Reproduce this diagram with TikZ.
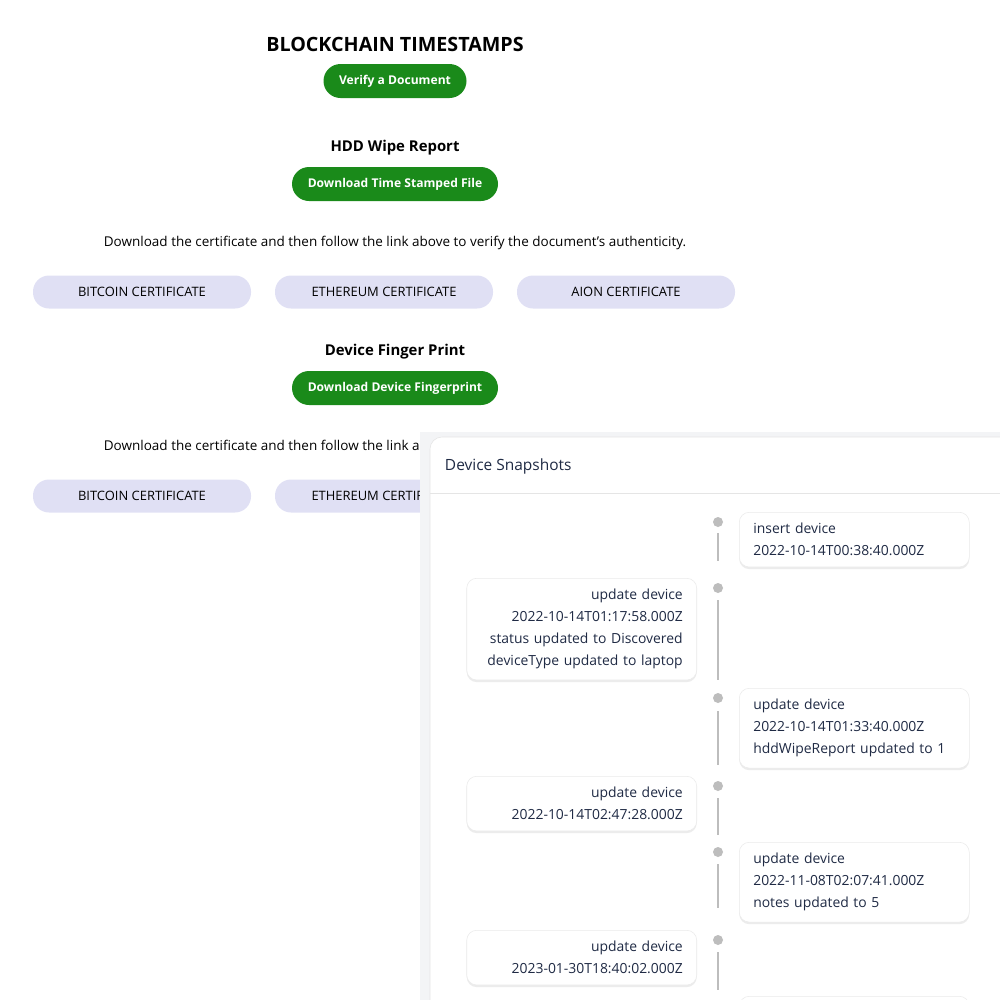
\documentclass[tikz,border=0pt]{standalone}
\usepackage{fontspec}
\setmainfont{Open Sans}
\usetikzlibrary{positioning,shadows}
\definecolor{btngreen}{HTML}{1A8A1A}
\definecolor{lavender}{HTML}{E0E0F4}
\definecolor{panelgrey}{HTML}{F3F4F6}
\definecolor{navy}{HTML}{1F2A44}
\definecolor{dotgrey}{HTML}{BDBDBD}
\tikzset{
        greenbtn/.style = {fill=btngreen, text=white, rounded corners=17*0.025cm,
            minimum height=34*0.025cm, font=\fontsize{8.6}{11}\selectfont\bfseries},
        certbtn/.style = {fill=lavender, rounded corners=16*0.025cm,
            minimum width=218*0.025cm, minimum height=33*0.025cm,
            font=\fontsize{9.2}{10}\selectfont},
        heading/.style = {font=\fontsize{10.6}{12}\selectfont\bfseries},
        bodytext/.style = {font=\fontsize{9.6}{12}\selectfont},
        card/.style = {draw=black!8, fill=white, rounded corners=10*0.025cm,
            drop shadow={opacity=0.15, shadow xshift=0pt, shadow yshift=-1.5pt},
            text width=202*0.025cm, inner xsep=14*0.025cm, inner ysep=11*0.025cm,
            text=navy, font=\fontsize{9.9}{15.6}\selectfont},
        tdot/.style = {circle, fill=dotgrey, inner sep=0pt, minimum size=10*0.025cm},
        tline/.style = {draw=dotgrey, line width=1.6pt},
    }
\begin{document}
\begin{tikzpicture}[x=0.025cm, y=-0.025cm]
  \useasboundingbox (0,0) rectangle (1000,1000);
  \clip (0,0) rectangle (1000,1000);

  % top page
  \node[font=\fontsize{14}{16}\selectfont\bfseries] (title) at (395,44) {BLOCKCHAIN TIMESTAMPS};
  \node[greenbtn, minimum width=143*0.025cm] (verify) at (395,81) {Verify a Document};
  \node[heading] (hdd) at (395,148) {HDD Wipe Report};
  \node[greenbtn, minimum width=206*0.025cm] (dlfile) at (395,184) {Download Time Stamped File};
  \node[bodytext] (info1) at (395,243) {Download the certificate and then follow the link above to verify the document's authenticity.};
  \node[certbtn] (btc1) at (142,292) {BITCOIN CERTIFICATE};
  \node[certbtn] (eth1) at (384,292) {ETHEREUM CERTIFICATE};
  \node[certbtn] (aion1) at (626,292) {AION CERTIFICATE};
  \node[heading] (dfp) at (395,352) {Device Finger Print};
  \node[greenbtn, minimum width=206*0.025cm] (dlfp) at (395,388) {Download Device Fingerprint};
  \node[bodytext] (info2) at (395,447) {Download the certificate and then follow the link above to verify the document's authenticity.};
  \node[certbtn] (btc2) at (142,496) {BITCOIN CERTIFICATE};
  \node[certbtn] (eth2) at (384,496) {ETHEREUM CERTIFICATE};
  \node[certbtn] (aion2) at (626,496) {AION CERTIFICATE};

  % snapshot panel
  \fill[panelgrey] (420,432) rectangle (1000,1000);
  \draw[black!10, fill=white, rounded corners=12*0.025cm] (430,437) rectangle (1020,1020);
  \draw[black!10] (430,493) -- (1000,493);
  \node[anchor=west, text=navy, font=\fontsize{11}{13}\selectfont] (snap) at (440,466) {Device Snapshots};

  % timeline
  \foreach \y/\n in {522/d1, 588/d2, 698/d3, 786/d4, 852/d5, 940/d6}
    \node[tdot] (\n) at (718,\y) {};
  \foreach \n/\a/\b in {d1/11/39, d2/12/92, d3/13/67, d4/12/49, d5/12/56, d6/12/50}
    \draw[tline] (\n) ++(0,\a) -- ++(0,\b-\a);

  \node[card, anchor=north west, align=left] (c1) at (739,512)
    {insert device\\2022-10-14T00:38:40.000Z};
  \node[card, anchor=north east, align=right] (c2) at (697,578)
    {update device\\2022-10-14T01:17:58.000Z\\status updated to Discovered\\deviceType updated to laptop};
  \node[card, anchor=north west, align=left] (c3) at (739,688)
    {update device\\2022-10-14T01:33:40.000Z\\hddWipeReport updated to 1};
  \node[card, anchor=north east, align=right] (c4) at (697,776)
    {update device\\2022-10-14T02:47:28.000Z};
  \node[card, anchor=north west, align=left] (c5) at (739,842)
    {update device\\2022-11-08T02:07:41.000Z\\notes updated to 5};
  \node[card, anchor=north east, align=right] (c6) at (697,930)
    {update device\\2023-01-30T18:40:02.000Z};
  \node[card, anchor=north west, align=left] (c7) at (739,996) {\strut};
\end{tikzpicture}
\end{document}
